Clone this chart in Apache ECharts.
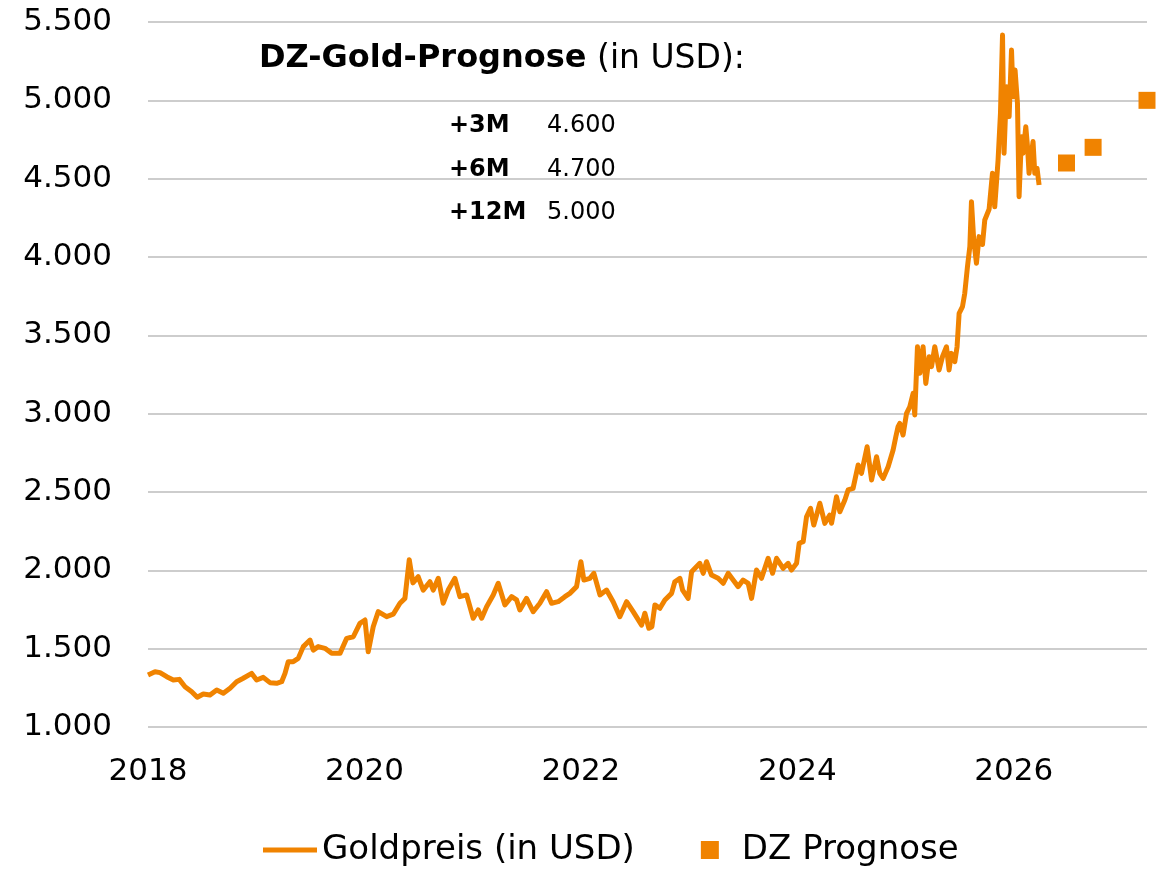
<!DOCTYPE html>
<html>
<head>
<meta charset="utf-8">
<script src="https://cdn.jsdelivr.net/npm/echarts@6.0.0/dist/echarts.min.js"></script>
<style>
  html, body { margin: 0; padding: 0; background: #fff; }
  #chart { width: 1157px; height: 871px; }
</style>
</head>
<body>
<div id="chart"></div>
<script>
// Goldpreis (Position als Jahr mit Nachkommastellen)
const goldDates = [
  2018.000, 2018.065, 2018.111, 2018.173, 2018.234, 2018.289, 2018.342, 2018.404, 2018.455, 2018.511, 2018.573, 2018.635, 2018.696, 2018.758, 2018.819, 2018.880, 2018.958,
  2019.004, 2019.065, 2019.127, 2019.189, 2019.235, 2019.266, 2019.296, 2019.342, 2019.388, 2019.435, 2019.497, 2019.527, 2019.573, 2019.635, 2019.697, 2019.774, 2019.836, 2019.897, 2019.958,
  2020.005, 2020.035, 2020.081, 2020.127, 2020.205, 2020.266, 2020.328, 2020.374, 2020.414, 2020.448, 2020.497, 2020.543, 2020.605, 2020.636, 2020.682, 2020.728, 2020.774, 2020.836, 2020.882, 2020.944,
  2021.005, 2021.051, 2021.083, 2021.129, 2021.190, 2021.236, 2021.298, 2021.360, 2021.406, 2021.436, 2021.498, 2021.559, 2021.621, 2021.683, 2021.729, 2021.790, 2021.852, 2021.898, 2021.960,
  2022.000, 2022.028, 2022.083, 2022.120, 2022.176, 2022.237, 2022.298, 2022.360, 2022.422, 2022.483, 2022.561, 2022.591, 2022.628, 2022.656, 2022.684, 2022.730, 2022.776, 2022.838, 2022.868, 2022.915, 2022.940, 2022.991,
  2023.023, 2023.099, 2023.130, 2023.161, 2023.207, 2023.268, 2023.315, 2023.361, 2023.407, 2023.453, 2023.499, 2023.546, 2023.577, 2023.623, 2023.669, 2023.730, 2023.771, 2023.808, 2023.869, 2023.915, 2023.946, 2023.993,
  2024.017, 2024.054, 2024.085, 2024.122, 2024.152, 2024.208, 2024.254, 2024.300, 2024.316, 2024.362, 2024.393, 2024.439, 2024.469, 2024.515, 2024.562, 2024.593, 2024.645, 2024.686, 2024.732, 2024.762, 2024.793, 2024.839, 2024.885, 2024.910, 2024.931, 2024.947, 2024.977,
  2025.009, 2025.039, 2025.070, 2025.085, 2025.110, 2025.132, 2025.162, 2025.187, 2025.218, 2025.240, 2025.270, 2025.310, 2025.341, 2025.378, 2025.402, 2025.424, 2025.455, 2025.476, 2025.495, 2025.526,
  2025.547, 2025.572, 2025.594, 2025.609, 2025.630, 2025.655, 2025.679, 2025.711, 2025.732, 2025.772, 2025.803, 2025.824, 2025.855, 2025.877, 2025.896, 2025.910, 2025.933, 2025.957, 2025.979, 2025.994,
  2026.012, 2026.034, 2026.049, 2026.071, 2026.086, 2026.111, 2026.127, 2026.141, 2026.178, 2026.194, 2026.215, 2026.234
];
const goldPrices = [
  1332, 1353, 1347, 1321, 1300, 1304, 1257, 1225, 1190, 1211, 1204, 1236, 1215, 1247, 1289, 1311, 1342,
  1300, 1317, 1283, 1279, 1289, 1342, 1417, 1417, 1438, 1513, 1555, 1491, 1513, 1502, 1470, 1470, 1566, 1576, 1662,
  1683, 1481, 1640, 1736, 1704, 1720, 1790, 1821, 2068, 1920, 1959, 1874, 1927, 1874, 1949, 1790, 1874, 1949, 1832, 1843,
  1694, 1747, 1694, 1768, 1843, 1917, 1779, 1832, 1811, 1747, 1821, 1736, 1790, 1864, 1790, 1800, 1832, 1853, 1896,
  2055, 1938, 1949, 1981, 1843, 1874, 1800, 1704, 1800, 1736, 1650, 1726, 1630, 1640, 1779, 1758, 1811, 1853, 1927, 1949, 1874, 1821,
  1991, 2045, 1981, 2055, 1970, 1949, 1917, 1981, 1938, 1896, 1938, 1917, 1821, 2002, 1949, 2077, 1981, 2077, 2013, 2045, 2002, 2045,
  2173, 2183, 2342, 2396, 2289, 2428, 2300, 2353, 2300, 2470, 2374, 2449, 2513, 2523, 2672, 2619, 2789, 2577, 2725, 2619, 2587, 2661, 2768, 2853, 2917, 2938, 2864,
  3002, 3044, 3130, 2992, 3427, 3258, 3427, 3193, 3363, 3300, 3427, 3279, 3363, 3427, 3279, 3385, 3332, 3427, 3640, 3683,
  3768, 3938, 4066, 4353, 4108, 3960, 4130, 4080, 4236, 4305, 4534, 4321, 4619, 4917, 5417, 4662, 5087, 4896, 5321, 5023,
  5193, 4981, 4385, 4768, 4662, 4832, 4704, 4534, 4737, 4534, 4566, 4460
];

// DZ Prognose
const forecastLabels = ['+3M', '+6M', '+12M'];
const forecastDates = [2026.487, 2026.733, 2027.231];
const forecastValues = [4600, 4700, 5000];

const yTicks = { min: 1000, max: 5500, step: 500 };
const xTicks = { min: 2018, max: 2027.231, step: 2 };

const ORANGE = '#F08300';
const FONT = 'DejaVu Sans';

function fmtDe(v) {
  return String(v).replace(/\B(?=(\d{3})+(?!\d))/g, '.');
}

const chart = echarts.init(document.getElementById('chart'), null, { renderer: 'canvas' });

// kleine Tabelle mit den Prognosewerten
const tableGraphics = [];
forecastLabels.forEach((lab, i) => {
  tableGraphics.push({
    type: 'text', x: 449, y: 126 + i * 43.5,
    style: { text: lab, font: 'bold 24px "' + FONT + '"', fill: '#000', verticalAlign: 'middle' }
  });
  tableGraphics.push({
    type: 'text', x: 547, y: 126 + i * 43.5,
    style: { text: fmtDe(forecastValues[i]), font: '24px "' + FONT + '"', fill: '#000', verticalAlign: 'middle' }
  });
});

const option = {
  animation: false,
  backgroundColor: '#fff',
  grid: { left: 148, right: 10, top: 22, bottom: 144 },
  xAxis: {
    type: 'value',
    min: xTicks.min,
    max: xTicks.max,
    interval: xTicks.step,
    axisLine: { show: false },
    axisTick: { show: false },
    splitLine: { show: false },
    axisLabel: {
      margin: 29,
      fontSize: 31,
      fontFamily: FONT,
      color: '#000',
      showMaxLabel: false,
      formatter: v => (Math.abs(v - Math.round(v)) < 1e-6 && Math.round(v) % 2 === 0 ? String(Math.round(v)) : '')
    }
  },
  yAxis: {
    type: 'value',
    min: yTicks.min,
    max: yTicks.max,
    interval: yTicks.step,
    axisLine: { show: false },
    axisTick: { show: false },
    splitLine: { lineStyle: { color: '#BDBDBD', width: 1.5 } },
    axisLabel: {
      margin: 36,
      fontSize: 31,
      fontFamily: FONT,
      color: '#000',
      formatter: v => fmtDe(v)
    }
  },
  legend: {
    left: 263,
    top: 833,
    padding: 0,
    itemWidth: 54,
    itemHeight: 18,
    itemGap: 66,
    textStyle: { fontSize: 34, fontFamily: FONT, color: '#000' },
    data: [
      { name: 'Goldpreis (in USD)', icon: 'path://M0,0h54v5h-54z' },
      { name: 'DZ Prognose', icon: 'path://M0,0h10v10h-10z' }
    ]
  },
  graphic: [
    {
      type: 'text', x: 259, y: 59,
      style: {
        text: '{b|DZ-Gold-Prognose} (in USD):',
        font: '33px "' + FONT + '"',
        fill: '#000',
        verticalAlign: 'middle',
        rich: { b: { fontWeight: 'bold', fontSize: 32, fontFamily: FONT, fill: '#000' } }
      }
    }
  ].concat(tableGraphics),
  series: [
    {
      name: 'Goldpreis (in USD)',
      type: 'line',
      data: goldDates.map((d, i) => [d, goldPrices[i]]),
      showSymbol: false,
      symbol: 'none',
      lineStyle: { color: ORANGE, width: 5, join: 'round' },
      itemStyle: { color: ORANGE },
      z: 3
    },
    {
      name: 'DZ Prognose',
      type: 'scatter',
      data: forecastDates.map((d, i) => [d, forecastValues[i]]),
      symbol: 'rect',
      symbolSize: 17,
      clip: false,
      itemStyle: { color: ORANGE, opacity: 1 },
      z: 4
    }
  ]
};

chart.setOption(option);
</script>
</body>
</html>
